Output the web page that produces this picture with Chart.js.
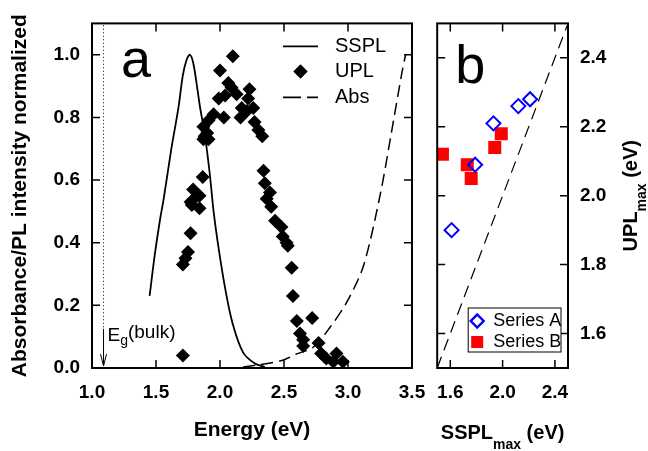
<!DOCTYPE html>
<html lang="en">
<head>
<meta charset="UTF-8">
<title>SSPL / UPL</title>
<script src="https://cdn.jsdelivr.net/npm/chart.js@4.4.1/dist/chart.umd.min.js"></script>
<style>
  html, body { margin: 0; padding: 0; background: #fff; }
  #wrap { position: relative; width: 648px; height: 451px; }
  #left { position: absolute; left: 0; top: 0; }
  #right { position: absolute; left: 428px; top: 0; }
</style>
</head>
<body>
<div id="wrap">
  <canvas id="left" width="430" height="451"></canvas>
  <canvas id="right" width="220" height="451"></canvas>
</div>
<script>
// panel a data
const ssplEnergy = [1.45, 1.49, 1.53, 1.56, 1.62, 1.675, 1.71, 1.74, 1.765, 1.79, 1.82, 1.845, 1.88, 1.92, 1.95, 1.99, 2.04, 2.10, 2.18, 2.27, 2.35];
const ssplIntensity = [0.23, 0.36, 0.47, 0.54, 0.70, 0.83, 0.935, 0.985, 1.0, 0.975, 0.9, 0.83, 0.75, 0.62, 0.50, 0.38, 0.255, 0.14, 0.05, 0.015, 0.003];

const absEnergy = [1.76, 2.10, 2.30, 2.49, 2.60, 2.73, 2.86, 2.99, 3.12, 3.25, 3.33, 3.42, 3.45];
const absValue = [0.0, 0.0, 0.01, 0.025, 0.045, 0.067, 0.13, 0.21, 0.325, 0.55, 0.73, 0.94, 1.0];

const uplEnergy = [1.71, 1.71, 1.73, 1.75, 1.77, 1.77, 1.78, 1.79, 1.82, 1.84, 1.84, 1.865, 1.87, 1.88, 1.91, 1.87, 1.90, 1.91, 1.95, 1.99,
  2.00, 2.03, 2.04, 2.065, 2.09, 2.10, 2.13, 2.16, 2.17, 2.21, 2.22, 2.23, 2.26, 2.27, 2.30, 2.33, 2.34, 2.35, 2.39, 2.365,
  2.40, 2.43, 2.48, 2.49, 2.52, 2.53, 2.56, 2.57, 2.60, 2.72, 2.625, 2.65, 2.77, 2.65, 2.79, 2.83, 2.91, 2.885, 2.96];
const uplIntensity = [0.04, 0.33, 0.35, 0.37, 0.43, 0.53, 0.52, 0.57, 0.55, 0.51, 0.55, 0.61, 0.73, 0.74, 0.73, 0.77, 0.75, 0.79, 0.81, 0.86,
  0.95, 0.80, 0.87, 0.91, 0.895, 0.995, 0.874, 0.80, 0.83, 0.82, 0.86, 0.89, 0.83, 0.785, 0.76, 0.74, 0.63, 0.59, 0.56, 0.54,
  0.515, 0.47, 0.45, 0.42, 0.40, 0.39, 0.32, 0.23, 0.15, 0.16, 0.11, 0.09, 0.08, 0.07, 0.046, 0.03, 0.046, 0.02, 0.02];

const egBulk = 1.09;
const egDotted = [0.13, 1.1];
const egArrow = [0.125, 0.0];

const energyTicks = [1.0, 1.5, 2.0, 2.5, 3.0, 3.5];
const intensityTicks = [0.0, 0.2, 0.4, 0.6, 0.8, 1.0];

// panel b data
const seriesASspl = [1.61, 1.79, 1.93, 2.12, 2.21];
const seriesAUpl = [1.90, 2.09, 2.21, 2.26, 2.28];
const seriesBSspl = [1.54, 1.73, 1.76, 1.94, 1.99];
const seriesBUpl = [2.12, 2.09, 2.05, 2.14, 2.18];
const diagonal = [1.5, 2.5];
const ssplMaxTicks = [1.6, 2.0, 2.4];
const uplMaxTicks = [1.6, 1.8, 2.0, 2.2, 2.4];

const FONT = "'Liberation Sans', Arial, Helvetica, sans-serif";
Chart.defaults.font.family = FONT;
Chart.defaults.color = '#000';

const pts = (xs, ys) => xs.map((x, i) => ({ x: x, y: ys[i] }));
const setTicks = (vals) => (s) => { s.ticks = vals.map(v => ({ value: v })); };
const tickFont = { size: 19, weight: 'bold' };

// frame + inward ticks on all four sides
const frame = {
  id: 'frame',
  afterDraw(chart) {
    const { ctx, chartArea: a, scales } = chart;
    const t = 8;
    ctx.save();
    ctx.strokeStyle = '#000';
    ctx.lineWidth = 1.5;
    ctx.setLineDash([]);
    ctx.beginPath();
    scales.x.ticks.forEach(tk => {
      const px = scales.x.getPixelForValue(tk.value);
      ctx.moveTo(px, a.bottom); ctx.lineTo(px, a.bottom - t);
      ctx.moveTo(px, a.top); ctx.lineTo(px, a.top + t);
    });
    scales.y.ticks.forEach(tk => {
      const py = scales.y.getPixelForValue(tk.value);
      ctx.moveTo(a.left, py); ctx.lineTo(a.left + t, py);
      ctx.moveTo(a.right, py); ctx.lineTo(a.right - t, py);
    });
    ctx.stroke();
    ctx.lineWidth = 2;
    ctx.strokeRect(a.left, a.top, a.right - a.left, a.bottom - a.top);
    ctx.restore();
  }
};

// panel a extras: letter, legend, Eg(bulk) arrow
const decorA = {
  id: 'decorA',
  afterDraw(chart) {
    const { ctx, chartArea: a, scales } = chart;
    ctx.save();
    ctx.fillStyle = '#000';
    ctx.strokeStyle = '#000';
    ctx.textBaseline = 'alphabetic';
    ctx.font = '54px ' + FONT;
    ctx.fillText('a', a.left + 29, a.top + 54);

    // legend
    const lx0 = a.left + 191, lx1 = a.left + 226, tx = a.left + 243;
    const rows = [a.top + 23, a.top + 48, a.top + 74];
    ctx.lineWidth = 1.8;
    ctx.beginPath(); ctx.moveTo(lx0, rows[0]); ctx.lineTo(lx1, rows[0]); ctx.stroke();
    Chart.helpers.drawPoint(ctx, { pointStyle: 'rectRot', radius: 7, borderWidth: 0 }, (lx0 + lx1) / 2, rows[1]);
    ctx.fill();
    ctx.setLineDash([18, 6]);
    ctx.beginPath(); ctx.moveTo(lx0, rows[2]); ctx.lineTo(lx1, rows[2]); ctx.stroke();
    ctx.setLineDash([]);
    ctx.font = '20px ' + FONT;
    ctx.textBaseline = 'middle';
    ['SSPL', 'UPL', 'Abs'].forEach((s, i) => ctx.fillText(s, tx, rows[i]));

    // Eg(bulk) arrow
    const ex = scales.x.getPixelForValue(egBulk);
    const y0 = scales.y.getPixelForValue(egArrow[0]);
    const y1 = scales.y.getPixelForValue(egArrow[1]) - 2;
    ctx.lineWidth = 1;
    ctx.beginPath();
    ctx.moveTo(ex, y0); ctx.lineTo(ex, y1);
    ctx.moveTo(ex - 3, y1 - 12); ctx.lineTo(ex, y1); ctx.lineTo(ex + 3, y1 - 12);
    ctx.stroke();
    ctx.textBaseline = 'alphabetic';
    let x = ex + 4;
    ctx.font = '19px ' + FONT;
    ctx.fillText('E', x, y0 + 12); x += ctx.measureText('E').width;
    ctx.font = '14px ' + FONT;
    ctx.fillText('g', x, y0 + 16); x += ctx.measureText('g').width;
    ctx.font = '19px ' + FONT;
    ctx.fillText('(bulk)', x, y0 + 9);
    ctx.restore();
  }
};

new Chart(document.getElementById('left'), {
  type: 'scatter',
  data: {
    datasets: [
      { label: 'UPL', data: pts(uplEnergy, uplIntensity), pointStyle: 'rectRot', pointRadius: 7,
        backgroundColor: '#000', borderColor: '#000', borderWidth: 0 },
      { label: 'SSPL', data: pts(ssplEnergy, ssplIntensity), showLine: true, tension: 0.35, pointRadius: 0,
        borderColor: '#000', borderWidth: 1.8 },
      { label: 'Abs', data: pts(absEnergy, absValue), showLine: true, tension: 0.3, pointRadius: 0,
        borderColor: '#000', borderWidth: 1.5, borderDash: [12, 6] },
      { label: 'Eg', data: pts([egBulk, egBulk], egDotted), showLine: true, pointRadius: 0,
        borderColor: '#000', borderWidth: 1, borderDash: [1, 2.5] }
    ]
  },
  options: {
    responsive: false,
    animation: false,
    devicePixelRatio: 1,
    layout: { padding: { top: 17, right: 18, left: 0, bottom: 0 } },
    plugins: { legend: { display: false }, tooltip: { enabled: false } },
    scales: {
      x: {
        type: 'linear', min: 1.0, max: 3.5,
        afterBuildTicks: setTicks(energyTicks),
        afterFit(s) { s.height = 83; s.paddingLeft = 0; s.paddingRight = 0; },
        grid: { display: false, drawTicks: false },
        border: { display: false },
        ticks: { padding: 13, color: '#000', font: tickFont, maxRotation: 0, autoSkip: false,
                 callback: v => v.toFixed(1) },
        title: { display: true, text: 'Energy (eV)', color: '#000',
                 font: { size: 21, weight: 'bold' }, padding: { top: 0, bottom: 8 } }
      },
      y: {
        type: 'linear', min: 0, max: 1.1,
        afterBuildTicks: setTicks(intensityTicks),
        afterFit(s) { s.width = 92; },
        grid: { display: false, drawTicks: false },
        border: { display: false },
        ticks: { padding: 12, color: '#000', font: tickFont, autoSkip: false,
                 callback: v => v.toFixed(1) },
        title: { display: true, text: 'Absorbance/PL intensity normalized', color: '#000',
                 font: { size: 21, weight: 'bold' }, padding: { top: 8, bottom: 0 } }
      }
    }
  },
  plugins: [frame, decorA]
});

// panel b extras: letter, legend, axis titles with subscripts
const decorB = {
  id: 'decorB',
  afterDraw(chart) {
    const { ctx, chartArea: a, width } = chart;
    ctx.save();
    ctx.fillStyle = '#000';
    ctx.textBaseline = 'alphabetic';
    ctx.font = '54px ' + FONT;
    ctx.fillText('b', a.left + 18, a.top + 60);

    // legend box
    const bx0 = a.left + 31, bx1 = a.right - 7, by1 = a.bottom - 16, by0 = by1 - 44;
    ctx.fillStyle = '#fff';
    ctx.fillRect(bx0, by0, bx1 - bx0, by1 - by0);
    ctx.strokeStyle = '#000';
    ctx.lineWidth = 1;
    ctx.strokeRect(bx0, by0, bx1 - bx0, by1 - by0);
    const mx = a.left + 40, tx = a.left + 56;
    const r1 = by0 + 13, r2 = by0 + 34;
    ctx.strokeStyle = '#0000ff';
    ctx.lineWidth = 2;
    Chart.helpers.drawPoint(ctx, { pointStyle: 'rectRot', radius: 6.5, borderWidth: 2 }, mx, r1);
    ctx.stroke();
    ctx.fillStyle = '#ff0000';
    ctx.fillRect(mx - 6, r2 - 6, 12, 12);
    ctx.fillStyle = '#000';
    ctx.font = '18px ' + FONT;
    ctx.textBaseline = 'middle';
    ctx.fillText('Series A', tx, r1);
    ctx.fillText('Series B', tx, r2);

    // subscripted title pieces
    const parts = (main, sub, tail) => {
      const big = 'bold 20px ' + FONT, small = 'bold 14px ' + FONT;
      ctx.font = big; const w1 = ctx.measureText(main).width, w3 = ctx.measureText(tail).width;
      ctx.font = small; const w2 = ctx.measureText(sub).width;
      return { big, small, w1, w2, w3, total: w1 + w2 + w3 };
    };
    ctx.textBaseline = 'alphabetic';
    let p = parts('SSPL', 'max', ' (eV)');
    let x = (a.left + a.right) / 2 - p.total / 2;
    const yb = 439;
    ctx.font = p.big; ctx.fillText('SSPL', x, yb);
    ctx.font = p.small; ctx.fillText('max', x + p.w1, yb + 10);
    ctx.font = p.big; ctx.fillText(' (eV)', x + p.w1 + p.w2, yb);

    p = parts('UPL', 'max', ' (eV)');
    ctx.translate(width - 11, (a.top + a.bottom) / 2);
    ctx.rotate(-Math.PI / 2);
    x = -p.total / 2;
    ctx.font = p.big; ctx.fillText('UPL', x, 0);
    ctx.font = p.small; ctx.fillText('max', x + p.w1, 9);
    ctx.font = p.big; ctx.fillText(' (eV)', x + p.w1 + p.w2, 0);
    ctx.restore();
  }
};

new Chart(document.getElementById('right'), {
  type: 'scatter',
  data: {
    datasets: [
      { label: 'Series A', data: pts(seriesASspl, seriesAUpl), pointStyle: 'rectRot', pointRadius: 7,
        backgroundColor: 'rgba(0,0,0,0)', borderColor: '#0000ff', borderWidth: 2 },
      { label: 'Series B', data: pts(seriesBSspl, seriesBUpl), pointStyle: 'rect', pointRadius: 9.2,
        backgroundColor: '#ff0000', borderColor: '#ff0000', borderWidth: 0 },
      { label: 'y = x', data: pts(diagonal, diagonal), showLine: true, pointRadius: 0,
        borderColor: '#000', borderWidth: 1.2, borderDash: [12, 7] }
    ]
  },
  options: {
    responsive: false,
    animation: false,
    devicePixelRatio: 1,
    layout: { padding: { top: 17, left: 3, right: 0, bottom: 0 } },
    plugins: { legend: { display: false }, tooltip: { enabled: false } },
    scales: {
      x: {
        type: 'linear', min: 1.5, max: 2.5,
        afterBuildTicks: setTicks(ssplMaxTicks),
        afterFit(s) { s.height = 83; s.paddingLeft = 0; s.paddingRight = 0; },
        grid: { display: false, drawTicks: false },
        border: { display: false },
        ticks: { padding: 13, color: '#000', font: tickFont, maxRotation: 0, autoSkip: false,
                 callback: v => v.toFixed(1) }
      },
      y: {
        type: 'linear', position: 'right', min: 1.5, max: 2.5,
        afterBuildTicks: setTicks(uplMaxTicks),
        afterFit(s) { s.width = 80; },
        grid: { display: false, drawTicks: false },
        border: { display: false },
        ticks: { padding: 12, color: '#000', font: tickFont, autoSkip: false,
                 callback: v => v.toFixed(1) }
      }
    }
  },
  plugins: [frame, decorB]
});
</script>
</body>
</html>
